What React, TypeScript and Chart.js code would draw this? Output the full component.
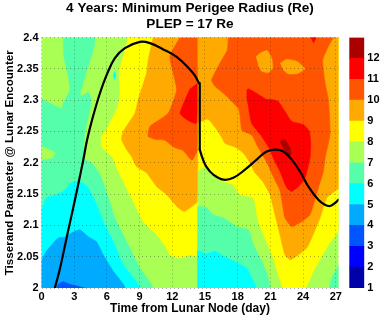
import React, { useEffect, useRef } from "react";
import { Chart, registerables } from "chart.js";

Chart.register(...registerables);

type Pt = [number, number];

const titleLines = ["4 Years: Minimum Perigee Radius (Re)", "PLEP = 17 Re"];
const xTicks = [0, 3, 6, 9, 12, 15, 18, 21, 24, 27];
const yTicks = [2, 2.05, 2.1, 2.15, 2.2, 2.25, 2.3, 2.35, 2.4];
const levels = [1, 2, 3, 4, 5, 6, 7, 8, 9, 10, 11, 12, 13];
const bandColors = ["#0000aa", "#0000ff", "#0055ff", "#00aaff", "#00ffff", "#55ffaa", "#aaff55", "#ffff00", "#ffaa00", "#ff5500", "#ff0000", "#aa0000"];
const X_MAX = 27.25;
const SPLIT = 14.29;

const base7: Pt[] = [[0, 2], [27.4, 2], [27.4, 2.4], [0, 2.4]];
const aquaLeft: Pt[] = [[1.99, 2.4], [2.05, 2.37], [2.45, 2.338], [2.6, 2.316], [1.99, 2.295], [1.84, 2.286], [1.38, 2.29], [0.46, 2.298], [0, 2.302], [0, 2], [10.16, 2], [9.03, 2.032], [7.81, 2.074], [6.73, 2.112], [5.97, 2.154], [5.36, 2.181], [4.59, 2.2], [3.83, 2.207], [3.98, 2.247], [4.29, 2.274], [4.59, 2.3], [4.29, 2.312], [3.52, 2.306], [3.98, 2.338], [4.59, 2.37], [4.84, 2.386], [4.9, 2.4]];
const limeSpot: Pt[] = [[0, 2.226], [0.46, 2.223], [1.22, 2.216], [1.0, 2.208], [0, 2.205]];
const cyanLeft: Pt[] = [[0, 2.125], [0.46, 2.144], [1.38, 2.149], [1.99, 2.154], [2.75, 2.168], [3.52, 2.17], [4.29, 2.16], [5.05, 2.133], [5.66, 2.106], [6.58, 2.074], [7.5, 2.037], [8.97, 2], [0, 2]];
const blue4: Pt[] = [[0, 2.043], [0.46, 2.059], [1.53, 2.08], [2.14, 2.081], [2.75, 2.088], [3.52, 2.093], [4.29, 2.082], [5.05, 2.074], [5.66, 2.053], [6.58, 2.027], [7.65, 2], [0, 2]];
const blue3: Pt[] = [[1.38, 2], [1.53, 2.006], [1.99, 2.01], [2.6, 2.006], [3.06, 2.004], [3.98, 2]];
const cyanSpot: Pt[] = [[6.67, 2.346], [6.83, 2.34], [6.73, 2.333], [6.58, 2.34]];
const yellowLeft: Pt[] = [[7.96, 2.4], [7.5, 2.37], [7.13, 2.346], [7.19, 2.316], [7.04, 2.29], [6.58, 2.274], [5.97, 2.253], [5.51, 2.242], [5.51, 2.226], [6.58, 2.207], [6.89, 2.192], [7.65, 2.165], [8.42, 2.138], [9.34, 2.106], [10.56, 2.085], [11.48, 2.064], [11.78, 2.053], [12.7, 2.048], [13.62, 2.053], [SPLIT, 2.051], [SPLIT, 2.4]];
const yellowRight: Pt[] = [[SPLIT, 2.4], [27.4, 2.4], [27.4, 2.098], [26.32, 2.069], [24.95, 2.027], [24.18, 2], [22.19, 2], [21.73, 2.021], [21.27, 2.048], [20.51, 2.08], [19.89, 2.106], [19.44, 2.144], [18.21, 2.149], [17.6, 2.165], [16.68, 2.17], [15.61, 2.181], [15.0, 2.194], [SPLIT, 2.186]];
const aquaRight: Pt[] = [[SPLIT, 2.13], [14.54, 2.13], [15.15, 2.128], [15.76, 2.117], [16.68, 2.112], [17.91, 2.098], [18.98, 2.093], [19.44, 2.069], [20.2, 2.043], [20.81, 2.016], [20.97, 2], [SPLIT, 2]];
const cyanRight: Pt[] = [[SPLIT, 2.059], [14.54, 2.059], [15.0, 2.054], [15.92, 2.059], [16.68, 2.051], [17.6, 2.043], [18.82, 2.032], [19.28, 2.016], [19.68, 2], [SPLIT, 2]];
const aquaCorner: Pt[] = [[26.41, 2], [26.63, 2.016], [27.24, 2.035], [27.4, 2.04], [27.4, 2]];
const orangeLeft: Pt[] = [[10.25, 2.4], [9.79, 2.364], [9.64, 2.343], [8.88, 2.301], [8.57, 2.279], [7.5, 2.25], [7.35, 2.237], [7.81, 2.221], [8.26, 2.21], [8.72, 2.194], [9.64, 2.184], [10.56, 2.162], [11.48, 2.149], [12.55, 2.128], [13.1, 2.122], [13.62, 2.128], [SPLIT, 2.138], [SPLIT, 2.4]];
const orangeRight: Pt[] = [[SPLIT, 2.4], [27.4, 2.4], [27.4, 2.16], [27.09, 2.157], [26.17, 2.144], [25.56, 2.112], [24.79, 2.08], [24.33, 2.064], [23.42, 2.051], [22.8, 2.045], [22.34, 2.053], [21.88, 2.085], [21.43, 2.117], [20.97, 2.149], [20.3, 2.17], [19.59, 2.184], [19.13, 2.2], [18.5, 2.216], [17.75, 2.225], [16.83, 2.231], [16.56, 2.24], [15.91, 2.257], [15.27, 2.27], [14.54, 2.265], [SPLIT, 2.263]];
const darkLeft: Pt[] = [[12.7, 2.4], [11.78, 2.37], [12.09, 2.343], [12.4, 2.316], [11.63, 2.279], [9.95, 2.258], [9.79, 2.242], [10.56, 2.237], [11.32, 2.236], [12.24, 2.224], [12.97, 2.22], [13.8, 2.204], [SPLIT, 2.22], [SPLIT, 2.4]];
const darkRight: Pt[] = [[17.14, 2.4], [17.05, 2.38], [16.37, 2.359], [15.61, 2.332], [15.92, 2.322], [16.83, 2.309], [17.29, 2.301], [18.06, 2.287], [18.21, 2.277], [18.39, 2.252], [19.31, 2.244], [19.86, 2.225], [20.69, 2.2], [21.42, 2.172], [21.88, 2.156], [22.34, 2.112], [22.96, 2.098], [23.87, 2.106], [24.64, 2.117], [25.4, 2.16], [25.86, 2.186], [26.02, 2.207], [26.48, 2.247], [26.32, 2.301], [26.02, 2.327], [25.8, 2.364], [26.32, 2.386], [26.78, 2.4]];
const island1: Pt[] = [[19.68, 2.369], [20.05, 2.375], [20.72, 2.379], [21.12, 2.367], [21.21, 2.351], [20.81, 2.344], [20.2, 2.346], [19.89, 2.356]];
const island2: Pt[] = [[21.88, 2.359], [22.5, 2.365], [23.42, 2.362], [24.18, 2.35], [23.42, 2.342], [22.65, 2.342], [22.19, 2.348]];
const redLeft: Pt[] = [[13.62, 2.318], [12.7, 2.279], [13.16, 2.271], [13.62, 2.266], [14.23, 2.263], [SPLIT, 2.327]];
const redRight: Pt[] = [[18.82, 2.316], [18.98, 2.318], [19.44, 2.314], [20.66, 2.301], [21.12, 2.301], [21.73, 2.298], [22.34, 2.282], [22.96, 2.266], [24.03, 2.261], [24.58, 2.25], [24.7, 2.231], [24.64, 2.208], [24.18, 2.176], [23.57, 2.162], [22.96, 2.154], [22.5, 2.16], [21.88, 2.186], [21.27, 2.207], [20.97, 2.221], [20.2, 2.242], [19.28, 2.263], [18.98, 2.29], [18.82, 2.306]];
const redWedge: Pt[] = [[24.7, 2.4], [25.19, 2.4], [24.95, 2.391]];
const darkRed: Pt[] = [[21.88, 2.234], [22.34, 2.237], [22.8, 2.223], [22.89, 2.212], [22.5, 2.215], [22.19, 2.223]];

const curveRise: Pt[] = [[1.22, 2], [1.68, 2.03], [2.3, 2.08], [2.91, 2.128], [3.52, 2.178], [3.83, 2.204], [4.19, 2.237], [4.68, 2.271], [5.36, 2.311], [5.97, 2.34], [6.73, 2.367], [7.65, 2.383], [9.03, 2.393], [9.95, 2.391], [11.17, 2.381], [12.4, 2.369], [13.62, 2.349], [14.08, 2.339], [14.45, 2.327]];
const curveDrop: Pt[] = [[14.52, 2.327], [14.52, 2.221]];
const curveTail: Pt[] = [[14.52, 2.221], [14.78, 2.207], [15.15, 2.193], [15.76, 2.181], [16.68, 2.173], [17.6, 2.176], [18.67, 2.189], [19.74, 2.205], [20.66, 2.218], [21.52, 2.221], [22.19, 2.218], [22.96, 2.205], [23.72, 2.186], [24.49, 2.162], [25.4, 2.141], [26.0, 2.133], [26.48, 2.131], [26.94, 2.136], [27.24, 2.141]];

const layers: [Pt[], number][] = [
  [base7, 6], [aquaLeft, 5], [limeSpot, 6], [cyanLeft, 4], [blue4, 3], [blue3, 2], [cyanSpot, 4],
  [yellowLeft, 7], [yellowRight, 7], [aquaRight, 5], [cyanRight, 4], [aquaCorner, 5],
  [orangeLeft, 8], [orangeRight, 8], [darkLeft, 9], [darkRight, 9], [island1, 8], [island2, 8],
  [redLeft, 10], [redRight, 10], [redWedge, 10], [darkRed, 11],
];

const FONT = "'Liberation Sans', Arial, sans-serif";
const toXY = (p: Pt[]) => p.map(([x, y]) => ({ x, y }));

export default function App() {
  const mainRef = useRef<HTMLCanvasElement>(null);
  const barRef = useRef<HTMLCanvasElement>(null);

  useEffect(() => {
    const area = layers.map(([pts, c]) => ({
      data: toXY(pts),
      showLine: true,
      fill: "shape",
      backgroundColor: bandColors[c],
      borderColor: bandColors[c],
      borderWidth: 0.6,
      pointRadius: 0,
      tension: 0.15,
    }));
    const line = (pts: Pt[], tension: number) => ({
      data: toXY(pts), showLine: true, borderColor: "#000", borderWidth: 2.2, pointRadius: 0, tension, fill: false, borderCapStyle: "round",
    });
    const main = new Chart(mainRef.current!, {
      type: "scatter",
      data: {
        datasets: [
          line(curveRise, 0.4),
          line(curveDrop, 0),
          line(curveTail, 0.4),
          ...area.reverse(),
        ] as any,
      },
      options: {
        responsive: false,
        animation: false,
        events: [],
        layout: { padding: { left: 0, right: 41.5, top: 0, bottom: 0 } },
        plugins: {
          legend: { display: false },
          tooltip: { enabled: false },
          title: {
            display: true,
            fullSize: false,
            text: titleLines,
            color: "#000",
            font: { family: FONT, size: 13.6, weight: "bold", lineHeight: 16 / 13.6 },
            padding: { top: 0, bottom: 5.5 },
          },
        },
        scales: {
          x: {
            type: "linear",
            min: 0,
            max: X_MAX,
            afterBuildTicks: (s: any) => { s.ticks = xTicks.map((value) => ({ value })); },
            afterFit: (s: any) => { s.height = 30; },
            grid: { color: "rgba(0,0,0,0.32)", lineWidth: 1, drawTicks: false, z: 1 } as any,
            border: { display: false, dash: [1, 3] },
            ticks: { color: "#000", font: { family: FONT, size: 11, weight: "bold" }, padding: 2, autoSkip: false, maxRotation: 0 },
            title: { display: true, text: "Time from Lunar Node (day)", color: "#000", font: { family: FONT, size: 12, weight: "bold" }, padding: { top: 0, bottom: 2 } },
          },
          y: {
            type: "linear",
            min: 2,
            max: 2.4,
            afterBuildTicks: (s: any) => { s.ticks = yTicks.map((value) => ({ value })); },
            afterFit: (s: any) => { s.width = 41.5; },
            grid: { color: "rgba(0,0,0,0.32)", lineWidth: 1, drawTicks: false, z: 1 } as any,
            border: { display: false, dash: [1, 3] },
            ticks: { color: "#000", font: { family: FONT, size: 11, weight: "bold" }, padding: 3, autoSkip: false, callback: (v: any) => String(Number(v)) },
            title: { display: true, text: "Tisserand Parameter @ Lunar Encounter", color: "#000", font: { family: FONT, size: 11.6, weight: "bold" }, padding: { top: 3, bottom: 0 } },
          },
        },
      } as any,
    });

    const bar = new Chart(barRef.current!, {
      type: "bar",
      data: {
        labels: [""],
        datasets: bandColors.map((c, i) => ({
          data: [[levels[i], levels[i + 1]]],
          backgroundColor: c,
          barPercentage: 1,
          categoryPercentage: 1,
          grouped: false,
        })) as any,
      },
      options: {
        responsive: false,
        animation: false,
        events: [],
        layout: { padding: { left: 349.3, right: 0, top: 37.5, bottom: 30 } },
        plugins: { legend: { display: false }, tooltip: { enabled: false }, title: { display: false } },
        scales: {
          x: { display: false },
          y: {
            position: "right",
            min: 1,
            max: 13,
            afterBuildTicks: (s: any) => { s.ticks = levels.map((value) => ({ value })); },
            afterFit: (s: any) => { s.width = 15.7; },
            grid: { display: false, drawTicks: false },
            border: { display: false },
            ticks: { color: "#000", font: { family: FONT, size: 11, weight: "bold" }, padding: 3, autoSkip: false, callback: (v: any) => (Number(v) === 13 ? "" : String(v)) },
          },
        },
      } as any,
    });

    return () => {
      main.destroy();
      bar.destroy();
    };
  }, []);

  const cs: React.CSSProperties = { position: "absolute", left: 0, top: 0, display: "block" };
  return (
    <div style={{ position: "absolute", left: 0, top: 0, width: 380, height: 318, background: "#fff" }}>
      <canvas ref={mainRef} width={380} height={318} style={cs} />
      <canvas ref={barRef} width={380} height={318} style={cs} />
    </div>
  );
}
